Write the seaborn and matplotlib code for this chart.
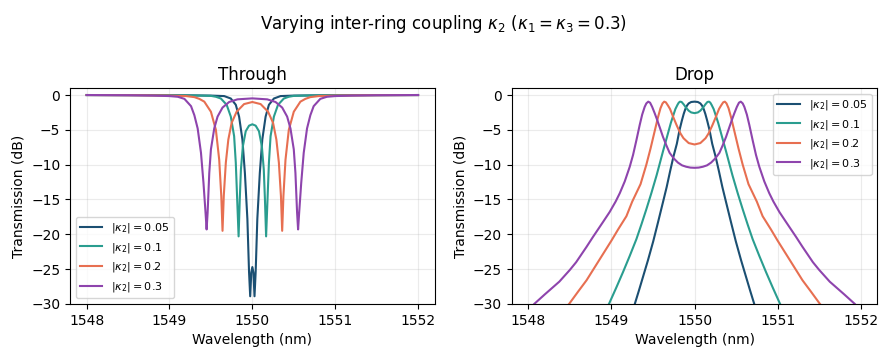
import numpy as np
import pandas as pd
import seaborn as sns
import matplotlib
matplotlib.use("Agg")
import matplotlib.pyplot as plt

labels = [r"$|\kappa_2| = 0.05$", r"$|\kappa_2| = 0.1$", r"$|\kappa_2| = 0.2$", r"$|\kappa_2| = 0.3$"]
colors = ["#1b4f72", "#2a9d8f", "#e76f51", "#8e44ad"]

# ---------------- Through port ----------------
thr_wl_005 = [1548.00, 1549.00, 1549.50, 1549.66, 1549.74, 1549.80, 1549.84, 1549.88, 1549.91, 1549.94,
              1549.96, 1549.974, 1549.987, 1550.00, 1550.013, 1550.026, 1550.04, 1550.06, 1550.09, 1550.12,
              1550.16, 1550.20, 1550.26, 1550.34, 1550.50, 1551.00, 1552.00]
thr_db_005 = [0.00, -0.02, -0.08, -0.15, -0.5, -1.4, -3.1, -6.4, -11.2, -17.8,
              -25.4, -28.9, -25.5, -24.7, -25.5, -28.9, -25.4, -17.8, -11.2, -6.4,
              -3.1, -1.4, -0.5, -0.15, -0.08, -0.02, 0.00]

thr_wl_01 = [1548.00, 1549.00, 1549.30, 1549.50, 1549.56, 1549.62, 1549.69, 1549.74, 1549.78, 1549.80,
             1549.817, 1549.834, 1549.848, 1549.862, 1549.885, 1549.92, 1549.96, 1550.00, 1550.04, 1550.08,
             1550.115, 1550.138, 1550.152, 1550.166, 1550.183, 1550.20, 1550.22, 1550.26, 1550.31, 1550.38,
             1550.44, 1550.50, 1550.70, 1551.00, 1552.00]
thr_db_01 = [0.00, -0.03, -0.06, -0.12, -0.25, -0.5, -1.4, -3.1, -5.9, -9.7,
             -15.0, -20.3, -15.0, -10.7, -7.4, -5.2, -4.4, -4.2, -4.4, -5.2,
             -7.4, -10.7, -15.0, -20.3, -15.0, -9.7, -5.9, -3.1, -1.4, -0.5,
             -0.25, -0.12, -0.06, -0.03, 0.00]

thr_wl_02 = [1548.00, 1548.60, 1549.00, 1549.20, 1549.30, 1549.36, 1549.42, 1549.50, 1549.56, 1549.60,
             1549.625, 1549.64, 1549.655, 1549.68, 1549.71, 1549.75, 1549.81, 1549.90, 1550.00, 1550.10,
             1550.19, 1550.25, 1550.29, 1550.32, 1550.345, 1550.36, 1550.375, 1550.40, 1550.44, 1550.50,
             1550.58, 1550.64, 1550.70, 1550.80, 1551.00, 1551.40, 1552.00]
thr_db_02 = [0.00, -0.03, -0.08, -0.15, -0.3, -0.55, -0.95, -2.4, -5.0, -9.3,
             -14.5, -19.5, -14.5, -9.7, -6.4, -4.0, -2.4, -1.3, -1.0, -1.3,
             -2.4, -4.0, -6.4, -9.7, -14.5, -19.5, -14.5, -9.3, -5.0, -2.4,
             -0.95, -0.55, -0.3, -0.15, -0.08, -0.03, 0.00]

thr_wl_03 = [1548.00, 1548.50, 1548.80, 1549.00, 1549.10, 1549.18, 1549.26, 1549.30, 1549.34, 1549.38,
             1549.41, 1549.435, 1549.448, 1549.46, 1549.48, 1549.50, 1549.54, 1549.58, 1549.64, 1549.72,
             1549.82, 1550.00, 1550.18, 1550.28, 1550.36, 1550.42, 1550.46, 1550.50, 1550.52, 1550.54,
             1550.552, 1550.565, 1550.59, 1550.62, 1550.66, 1550.70, 1550.74, 1550.82, 1550.90, 1551.00,
             1551.20, 1551.50, 1552.00]
thr_db_03 = [0.00, -0.03, -0.08, -0.15, -0.25, -0.55, -1.6, -2.9, -4.8, -8.3,
             -12.6, -16.9, -19.3, -16.9, -11.2, -7.8, -4.8, -3.1, -1.8, -1.0,
             -0.62, -0.48, -0.62, -1.0, -1.8, -3.1, -4.8, -7.8, -11.2, -16.9,
             -19.3, -16.9, -12.6, -8.3, -4.8, -2.9, -1.6, -0.55, -0.25, -0.15,
             -0.08, -0.03, 0.00]

# ---------------- Drop port ----------------
drp_wl_005 = [1548.00, 1549.20, 1549.281, 1549.33, 1549.38, 1549.44, 1549.503, 1549.56, 1549.624, 1549.665,
              1549.705, 1549.745, 1549.787, 1549.82, 1549.847, 1549.87, 1549.89, 1549.91, 1549.93, 1549.96,
              1550.00,
              1550.04, 1550.07, 1550.09, 1550.11, 1550.13, 1550.153, 1550.18, 1550.213, 1550.255, 1550.295,
              1550.335, 1550.376, 1550.44, 1550.497, 1550.56, 1550.62, 1550.67, 1550.719, 1550.80, 1552.00]
drp_db_005 = [-50, -33.3, -30.0, -28.1, -26.1, -23.7, -21.0, -18.3, -15.2, -13.2,
              -11.0, -8.9, -7.0, -5.0, -3.7, -2.7, -2.0, -1.5, -1.2, -1.0,
              -0.95,
              -1.0, -1.2, -1.5, -2.0, -2.7, -3.7, -5.0, -7.0, -8.9, -11.0,
              -13.2, -15.2, -18.3, -21.0, -23.7, -26.1, -28.1, -30.0, -33.3, -50]

drp_wl_01 = [1548.00, 1548.90, 1548.97, 1549.06, 1549.14, 1549.22, 1549.30, 1549.36, 1549.42, 1549.48,
             1549.544, 1549.58, 1549.62, 1549.655, 1549.685, 1549.715, 1549.745, 1549.77, 1549.795, 1549.81,
             1549.825, 1549.845, 1549.87, 1549.90, 1549.93, 1549.96, 1550.00,
             1550.04, 1550.07, 1550.10, 1550.13, 1550.155, 1550.175, 1550.19, 1550.205, 1550.23, 1550.255,
             1550.285, 1550.315, 1550.345, 1550.38, 1550.42, 1550.456, 1550.52, 1550.58, 1550.64, 1550.70,
             1550.78, 1550.86, 1550.94, 1551.03, 1551.10, 1552.00]
drp_db_01 = [-45, -31.3, -30.0, -27.6, -25.4, -23.1, -20.7, -18.6, -16.4, -14.1,
             -11.5, -9.9, -8.1, -6.6, -5.3, -4.0, -2.9, -2.0, -1.4, -1.1,
             -0.95, -1.0, -1.35, -1.85, -2.25, -2.5, -2.6,
             -2.5, -2.25, -1.85, -1.35, -1.0, -0.95, -1.1, -1.4, -2.0, -2.9,
             -4.0, -5.3, -6.6, -8.1, -9.9, -11.5, -14.1, -16.4, -18.6, -20.7,
             -23.1, -25.4, -27.6, -30.0, -31.3, -45]

drp_wl_02 = [1548.00, 1548.40, 1548.49, 1548.60, 1548.70, 1548.80, 1548.90, 1549.00, 1549.08, 1549.18,
             1549.25, 1549.35, 1549.42, 1549.47, 1549.52, 1549.56, 1549.59, 1549.615, 1549.635, 1549.655,
             1549.68, 1549.705, 1549.745, 1549.787, 1549.83, 1549.867, 1549.93, 1550.00,
             1550.07, 1550.133, 1550.17, 1550.213, 1550.255, 1550.295, 1550.32, 1550.345, 1550.365, 1550.385,
             1550.41, 1550.44, 1550.48, 1550.53, 1550.58, 1550.65, 1550.75, 1550.82, 1550.92, 1551.00,
             1551.10, 1551.20, 1551.30, 1551.40, 1551.51, 1551.60, 1552.00]
drp_db_02 = [-38, -31.2, -30.0, -28.2, -26.6, -24.7, -22.8, -20.9, -19.3, -17.4,
             -15.3, -12.8, -10.0, -7.7, -5.2, -3.2, -1.9, -1.2, -0.95, -1.05,
             -1.5, -2.0, -3.2, -4.4, -5.5, -6.2, -6.9, -7.1,
             -6.9, -6.2, -5.5, -4.4, -3.2, -2.0, -1.5, -1.05, -0.95, -1.2,
             -1.9, -3.2, -5.2, -7.7, -10.0, -12.8, -15.3, -17.4, -19.3, -20.9,
             -22.8, -24.7, -26.6, -28.2, -30.0, -31.2, -38]

drp_wl_03 = [1548.00, 1548.07, 1548.20, 1548.372, 1548.50, 1548.575, 1548.70, 1548.776, 1548.90, 1548.978,
             1549.05, 1549.10, 1549.16, 1549.22, 1549.26, 1549.30, 1549.34, 1549.37, 1549.40, 1549.42,
             1549.443, 1549.465, 1549.49, 1549.52, 1549.545, 1549.58, 1549.62, 1549.66, 1549.70, 1549.75,
             1549.80, 1549.85, 1549.90, 1549.95, 1550.00,
             1550.05, 1550.10, 1550.15, 1550.20, 1550.25, 1550.30, 1550.34, 1550.38, 1550.42, 1550.455,
             1550.48, 1550.51, 1550.535, 1550.557, 1550.58, 1550.60, 1550.63, 1550.66, 1550.70, 1550.74,
             1550.78, 1550.84, 1550.90, 1550.95, 1551.022, 1551.10, 1551.224, 1551.30, 1551.425, 1551.50,
             1551.628, 1551.80, 1551.93, 1552.00]
drp_db_03 = [-31.0, -30.0, -28.6, -26.8, -25.1, -24.0, -21.8, -20.4, -18.2, -16.8,
             -15.3, -14.1, -12.4, -10.3, -8.6, -6.5, -4.3, -2.8, -1.7, -1.2,
             -0.95, -1.1, -1.7, -2.6, -3.4, -4.6, -6.0, -7.2, -8.3, -9.1,
             -9.7, -10.1, -10.3, -10.42, -10.45,
             -10.42, -10.3, -10.1, -9.7, -9.1, -8.3, -7.2, -6.0, -4.6, -3.4,
             -2.6, -1.7, -1.1, -0.95, -1.2, -1.7, -2.8, -4.3, -6.5, -8.6,
             -10.3, -12.4, -14.1, -15.3, -16.8, -18.2, -20.4, -21.8, -24.0, -25.1,
             -26.8, -28.6, -30.0, -31.0]

xticks = [1548, 1549, 1550, 1551, 1552]
yticks = [0, -5, -10, -15, -20, -25, -30]


def frame(wls, dbs):
    parts = []
    for lab, w, d in zip(labels, wls, dbs):
        parts.append(pd.DataFrame({"wl": w, "db": d, "label": lab}))
    return pd.concat(parts, ignore_index=True)


df_thr = frame([thr_wl_005, thr_wl_01, thr_wl_02, thr_wl_03], [thr_db_005, thr_db_01, thr_db_02, thr_db_03])
df_drp = frame([drp_wl_005, drp_wl_01, drp_wl_02, drp_wl_03], [drp_db_005, drp_db_01, drp_db_02, drp_db_03])

fig = plt.figure(figsize=(8.87, 3.58), dpi=100)
ax1 = fig.add_axes([0.079, 0.151, 0.411, 0.603])
ax2 = fig.add_axes([0.577, 0.151, 0.412, 0.603])

for ax, df, title, loc in [(ax1, df_thr, "Through", "lower left"), (ax2, df_drp, "Drop", "upper right")]:
    sns.lineplot(data=df, x="wl", y="db", hue="label", hue_order=labels, palette=colors,
                 estimator=None, sort=False, linewidth=1.5, ax=ax)
    ax.set_ylim(-30, 1)
    ax.set_xlim(1547.8, 1552.2)
    ax.set_xticks(xticks)
    ax.set_yticks(yticks)
    ax.grid(True, alpha=0.25)
    ax.set_title(title, fontsize=12)
    ax.set_xlabel("Wavelength (nm)", fontsize=10)
    ax.set_ylabel("Transmission (dB)", fontsize=10)
    ax.legend(loc=loc, fontsize=8, title=None)

fig.suptitle(r"Varying inter-ring coupling $\kappa_2$ ($\kappa_1 = \kappa_3 = 0.3$)", fontsize=12, y=0.965)
fig.savefig("out.png", dpi=100)
